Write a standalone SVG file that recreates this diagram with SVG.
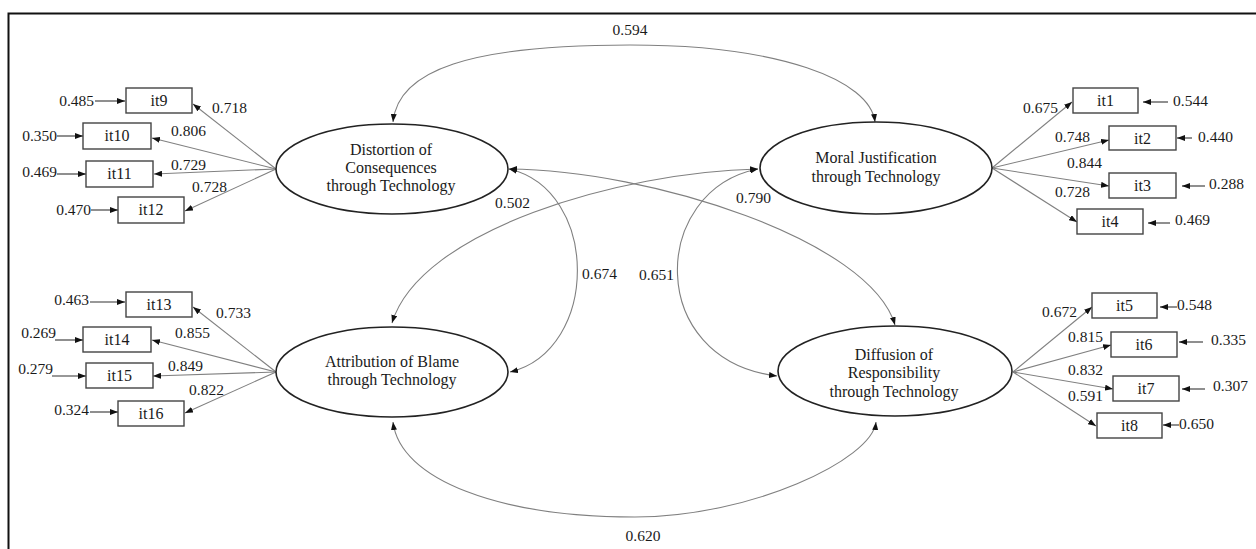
<svg xmlns="http://www.w3.org/2000/svg" width="1256" height="549" viewBox="0 0 1256 549">
<defs>
<marker id="ah" viewBox="0 0 8 6" refX="8" refY="3" markerWidth="8" markerHeight="6" markerUnits="userSpaceOnUse" orient="auto-start-reverse">
<path d="M0,0 L8,3 L0,6 z" fill="#111"/>
</marker>
<style>
.lat{fill:#fff;stroke:#222;stroke-width:1.6}
.obs{fill:#fff;stroke:#444;stroke-width:1.4}
.ln{fill:none;stroke:#808080;stroke-width:1.1;marker-end:url(#ah)}
.er{fill:none;stroke:#333;stroke-width:1.1;marker-end:url(#ah)}
.cv{fill:none;stroke:#808080;stroke-width:1.1;marker-start:url(#ah);marker-end:url(#ah)}
.num{font-family:"Liberation Serif","Times New Roman",serif;font-size:15.5px;fill:#1a1a1a}
.it{font-family:"Liberation Serif","Times New Roman",serif;font-size:16px;fill:#1a1a1a;text-anchor:middle}
.lt{font-family:"Liberation Serif","Times New Roman",serif;font-size:16px;fill:#1a1a1a;text-anchor:middle}
.e{text-anchor:end}
.m{text-anchor:middle}
</style>
</defs>
<rect width="1256" height="549" fill="#fff"/>
<path d="M8.5,549 L8.5,13.5 L1256,13.5" fill="none" stroke="#111" stroke-width="2"/>

<g id="connectors">
<path class="ln" d="M276,169 L193,104"/>
<path class="ln" d="M276,169 L152,138"/>
<path class="ln" d="M276,169 L154,174"/>
<path class="ln" d="M276,169 L185,211"/>
<path class="ln" d="M276,372 L193,307"/>
<path class="ln" d="M276,372 L152,340"/>
<path class="ln" d="M276,372 L153,376"/>
<path class="ln" d="M276,372 L185,413"/>
<path class="ln" d="M992,168 L1072,102"/>
<path class="ln" d="M992,168 L1109,140"/>
<path class="ln" d="M992,168 L1109,186"/>
<path class="ln" d="M992,168 L1077,222"/>
<path class="ln" d="M1013,372 L1092,307"/>
<path class="ln" d="M1013,372 L1111,345"/>
<path class="ln" d="M1013,372 L1113,389"/>
<path class="ln" d="M1013,372 L1096,426"/>
<path class="er" d="M95,101 L125,101"/>
<path class="er" d="M57,136 L83,136"/>
<path class="er" d="M57,174 L86,174"/>
<path class="er" d="M91,210 L118,210"/>
<path class="er" d="M90,302 L125,302"/>
<path class="er" d="M55,340 L83,340"/>
<path class="er" d="M52,376 L86,376"/>
<path class="er" d="M90,412 L118,412"/>
<path class="er" d="M1168,102 L1143,102"/>
<path class="er" d="M1192,138 L1177,138"/>
<path class="er" d="M1205,186 L1182,186"/>
<path class="er" d="M1170,223 L1148,223"/>
<path class="er" d="M1177,307 L1160,307"/>
<path class="er" d="M1203,342 L1179,342"/>
<path class="er" d="M1205,389 L1182,389"/>
<path class="er" d="M1179,425 L1163,425"/>
<path class="cv" d="M393,122 C398,70 470,45 630,45 C780,45 870,80 875,122"/>
<path class="cv" d="M393,422 C400,480 500,517 635,517 C750,517 872,460 876,422"/>
<path class="cv" d="M509,169 C650,170 870,240 895,325"/>
<path class="cv" d="M758,169 C620,172 420,230 392,323"/>
<path class="cv" d="M509,169 C600,190 600,350 510,372"/>
<path class="cv" d="M758,169 C650,190 645,360 777,376"/>
</g>

<g id="cov-labels">
<text class="num m" x="630" y="35">0.594</text>
<text class="num m" x="643" y="541">0.620</text>
<text class="num" x="736" y="203">0.790</text>
<text class="num" x="495" y="208">0.502</text>
<text class="num" x="582" y="279">0.674</text>
<text class="num" x="639" y="280">0.651</text>
</g>

<g id="DCT">
<ellipse class="lat" cx="392" cy="169" rx="116" ry="45"/>
<text class="lt" x="391" y="155">Distortion of</text>
<text class="lt" x="391" y="173">Consequences</text>
<text class="lt" x="391" y="191">through Technology</text>
</g>
<g id="MJT">
<ellipse class="lat" cx="876" cy="168" rx="116" ry="46"/>
<text class="lt" x="876" y="163">Moral Justification</text>
<text class="lt" x="876" y="182">through Technology</text>
</g>
<g id="ABT">
<ellipse class="lat" cx="392" cy="372" rx="116" ry="45"/>
<text class="lt" x="392" y="367">Attribution of Blame</text>
<text class="lt" x="392" y="385">through Technology</text>
</g>
<g id="DRT">
<ellipse class="lat" cx="895" cy="371" rx="117" ry="45"/>
<text class="lt" x="894" y="360">Diffusion of</text>
<text class="lt" x="894" y="378">Responsibility</text>
<text class="lt" x="894" y="397">through Technology</text>
</g>

<g id="it9"><rect class="obs" x="126" y="88" width="66" height="25"/><text class="it" x="159" y="106">it9</text><text class="num e" x="94" y="106">0.485</text><text class="num" x="212" y="113">0.718</text></g>
<g id="it10"><rect class="obs" x="83" y="123" width="68" height="26"/><text class="it" x="117" y="141">it10</text><text class="num e" x="57" y="141">0.350</text><text class="num" x="171" y="136">0.806</text></g>
<g id="it11"><rect class="obs" x="86" y="161" width="67" height="26"/><text class="it" x="119.5" y="179">it11</text><text class="num e" x="57" y="177">0.469</text><text class="num" x="171" y="170">0.729</text></g>
<g id="it12"><rect class="obs" x="118" y="197" width="66" height="26"/><text class="it" x="151" y="215">it12</text><text class="num e" x="91" y="214.5">0.470</text><text class="num" x="192" y="192">0.728</text></g>

<g id="it13"><rect class="obs" x="126" y="292" width="66" height="25"/><text class="it" x="159" y="310">it13</text><text class="num e" x="89" y="305">0.463</text><text class="num" x="216" y="318">0.733</text></g>
<g id="it14"><rect class="obs" x="83" y="327" width="68" height="25"/><text class="it" x="117" y="345">it14</text><text class="num e" x="56" y="338">0.269</text><text class="num" x="175" y="338">0.855</text></g>
<g id="it15"><rect class="obs" x="86" y="363" width="67" height="25"/><text class="it" x="119.5" y="381">it15</text><text class="num e" x="53" y="374">0.279</text><text class="num" x="168" y="371">0.849</text></g>
<g id="it16"><rect class="obs" x="118" y="401" width="66" height="25"/><text class="it" x="151" y="419">it16</text><text class="num e" x="89" y="415">0.324</text><text class="num" x="189" y="395">0.822</text></g>

<g id="it1"><rect class="obs" x="1073" y="88" width="65" height="25"/><text class="it" x="1105.5" y="106">it1</text><text class="num" x="1173" y="106">0.544</text><text class="num" x="1023" y="113">0.675</text></g>
<g id="it2"><rect class="obs" x="1109" y="126" width="67" height="24"/><text class="it" x="1142.5" y="144">it2</text><text class="num" x="1198" y="142">0.440</text><text class="num" x="1055" y="142">0.748</text></g>
<g id="it3"><rect class="obs" x="1109" y="173" width="67" height="25"/><text class="it" x="1142.5" y="191">it3</text><text class="num" x="1209" y="188.5">0.288</text><text class="num" x="1067" y="168">0.844</text></g>
<g id="it4"><rect class="obs" x="1077" y="209" width="66" height="25"/><text class="it" x="1110" y="227">it4</text><text class="num" x="1175" y="225">0.469</text><text class="num" x="1055" y="197">0.728</text></g>

<g id="it5"><rect class="obs" x="1092" y="293" width="65" height="25"/><text class="it" x="1124.5" y="311">it5</text><text class="num" x="1177" y="309.5">0.548</text><text class="num" x="1042" y="317">0.672</text></g>
<g id="it6"><rect class="obs" x="1111" y="332" width="66" height="25"/><text class="it" x="1144" y="350">it6</text><text class="num" x="1211" y="345">0.335</text><text class="num" x="1068" y="342">0.815</text></g>
<g id="it7"><rect class="obs" x="1113" y="376" width="66" height="25"/><text class="it" x="1146" y="394">it7</text><text class="num" x="1213" y="391">0.307</text><text class="num" x="1068" y="375">0.832</text></g>
<g id="it8"><rect class="obs" x="1097" y="413" width="65" height="25"/><text class="it" x="1129.5" y="431">it8</text><text class="num" x="1179" y="428.5">0.650</text><text class="num" x="1068" y="401">0.591</text></g>
</svg>
